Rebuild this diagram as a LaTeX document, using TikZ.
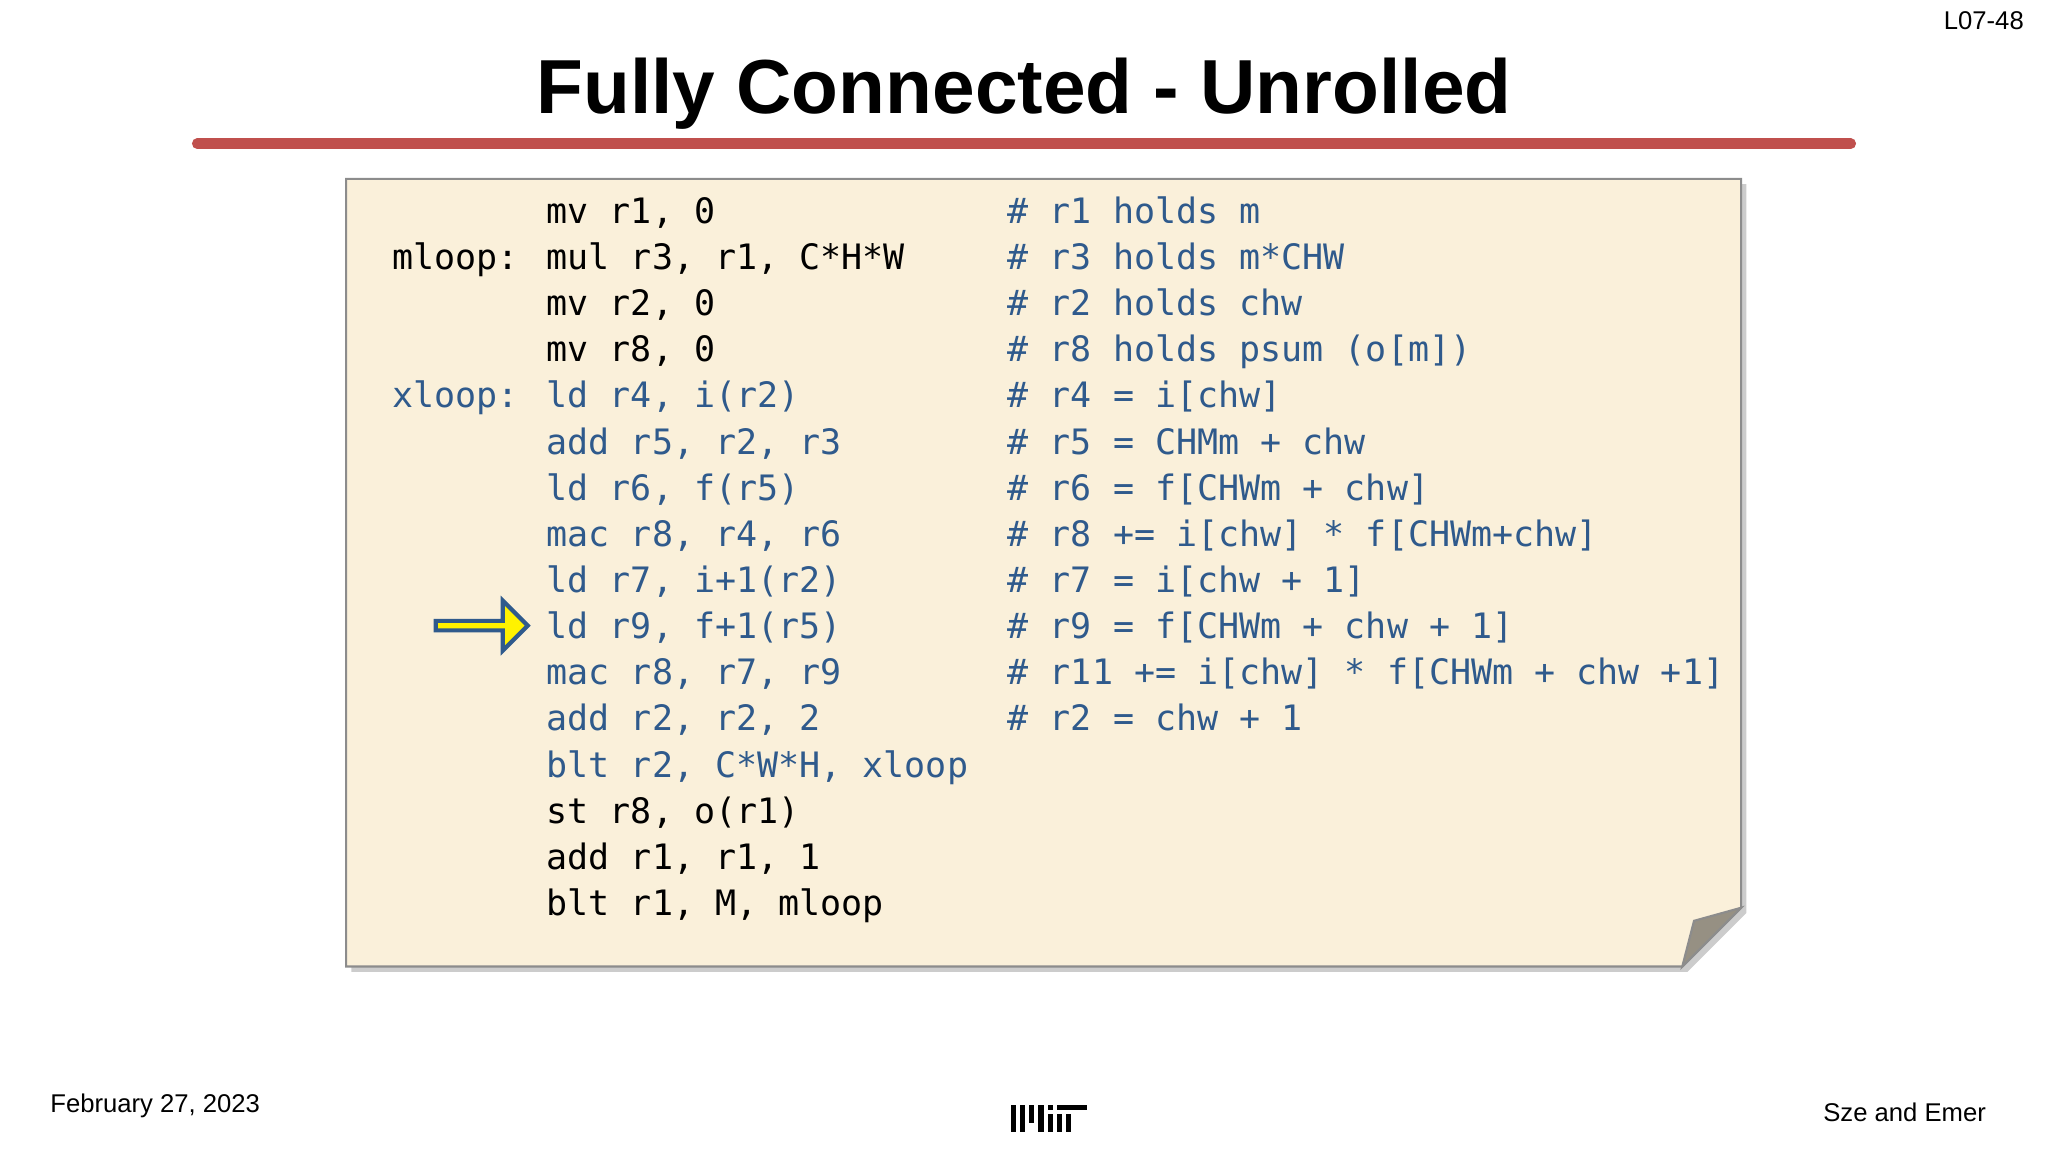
\documentclass[tikz,border=0pt]{standalone}
\usepackage{fontspec}
\setmainfont{Liberation Sans}
\setmonofont{DejaVu Sans Mono}
\usetikzlibrary{shapes.arrows}
\definecolor{codeblue}{HTML}{2F5A8C}
\definecolor{notebg}{HTML}{FAF0DA}
\definecolor{titlered}{HTML}{C0504D}
\tikzset{
 code/.style={anchor=base west,inner sep=0pt,font=\ttfamily\fontsize{9.96}{12}\selectfont},
 foot/.style={inner sep=0pt,font=\fontsize{7.3}{9}\selectfont},
}
\begin{document}
\begin{tikzpicture}[x=0.013061cm,y=-0.013061cm]
\useasboundingbox (0,0) rectangle (1568,882);
\node[inner sep=0pt,font=\bfseries\fontsize{21.8}{26}\selectfont] (title) at (784,72) {Fully Connected - Unrolled};
\draw[titlered,line width=3pt,line cap=round] (151,110) coordinate (l1) -- (1417,110) coordinate (l2);
\node[foot,anchor=north east] (pg) at (1550,8) {L07-48};
% note
\fill[black!20] (269,141) -- (1337,141) -- (1337,699) -- (1292,744) -- (269,744) -- cycle;
\filldraw[fill=notebg,draw=black!45,line width=0.6pt] (265,137) -- (1333,137) -- (1333,695) -- (1288,740) -- (265,740) -- cycle;
\filldraw[fill=black!25!notebg!80!black,draw=black!45,line width=0.6pt] (1288,740) -- (1297,705) -- (1333,695) -- cycle;
% code
\foreach \i/\lab/\ins/\com/\lc/\ic in {
 0//{mv r1, 0}/{\# r1 holds m}/black/black,
 1/mloop:/{mul r3, r1, C*H*W}/{\# r3 holds m*CHW}/black/black,
 2//{mv r2, 0}/{\# r2 holds chw}/black/black,
 3//{mv r8, 0}/{\# r8 holds psum (o[m])}/black/black,
 4/xloop:/{ld r4, i(r2)}/{\# r4 = i[chw]}/codeblue/codeblue,
 5//{add r5, r2, r3}/{\# r5 = CHMm + chw}/codeblue/codeblue,
 6//{ld r6, f(r5)}/{\# r6 = f[CHWm + chw]}/codeblue/codeblue,
 7//{mac r8, r4, r6}/{\# r8 += i[chw] * f[CHWm+chw]}/codeblue/codeblue,
 8//{ld r7, i+1(r2)}/{\# r7 = i[chw + 1]}/codeblue/codeblue,
 9//{ld r9, f+1(r5)}/{\# r9 = f[CHWm + chw + 1]}/codeblue/codeblue,
 10//{mac r8, r7, r9}/{\# r11 += i[chw] * f[CHWm + chw +1]}/codeblue/codeblue,
 11//{add r2, r2, 2}/{\# r2 = chw + 1}/codeblue/codeblue,
 12//{blt r2, C*W*H, xloop}/{}/codeblue/codeblue,
 13//{st r8, o(r1)}/{}/black/black,
 14//{add r1, r1, 1}/{}/black/black,
 15//{blt r1, M, mloop}/{}/black/black}{
 \node[code,text=\lc] (lab\i) at (300,{171+35.33*\i}) {\lab};
 \node[code,text=\ic] (ins\i) at (418,{171+35.33*\i}) {\ins};
 \node[code,text=codeblue] (com\i) at (771,{171+35.33*\i}) {\com};
}
\node[single arrow,draw=codeblue,fill=yellow,line width=1.2pt,minimum height=0.92cm,minimum width=0.5cm,single arrow head extend=0.09cm,inner sep=0pt] (arr) at (367,479) {};
% footer
\node[foot,anchor=west] (date) at (38,847) {February 27, 2023};
\node[foot,anchor=east] (auth) at (1521,852) {Sze and Emer};
\begin{scope}[shift={(774,846)}]
\fill (0,0) rectangle (4,21);
\fill (7,0) rectangle (11,21);
\fill (14,0) rectangle (18,14);
\fill (21,0) rectangle (25,21);
\fill (28,7) rectangle (32,21);
\fill (28,0) rectangle (32,4);
\fill (35,0) rectangle (58,4);
\fill (35,7) rectangle (39,21);
\fill (42,7) rectangle (46,21);
\end{scope}
\end{tikzpicture}
\end{document}
